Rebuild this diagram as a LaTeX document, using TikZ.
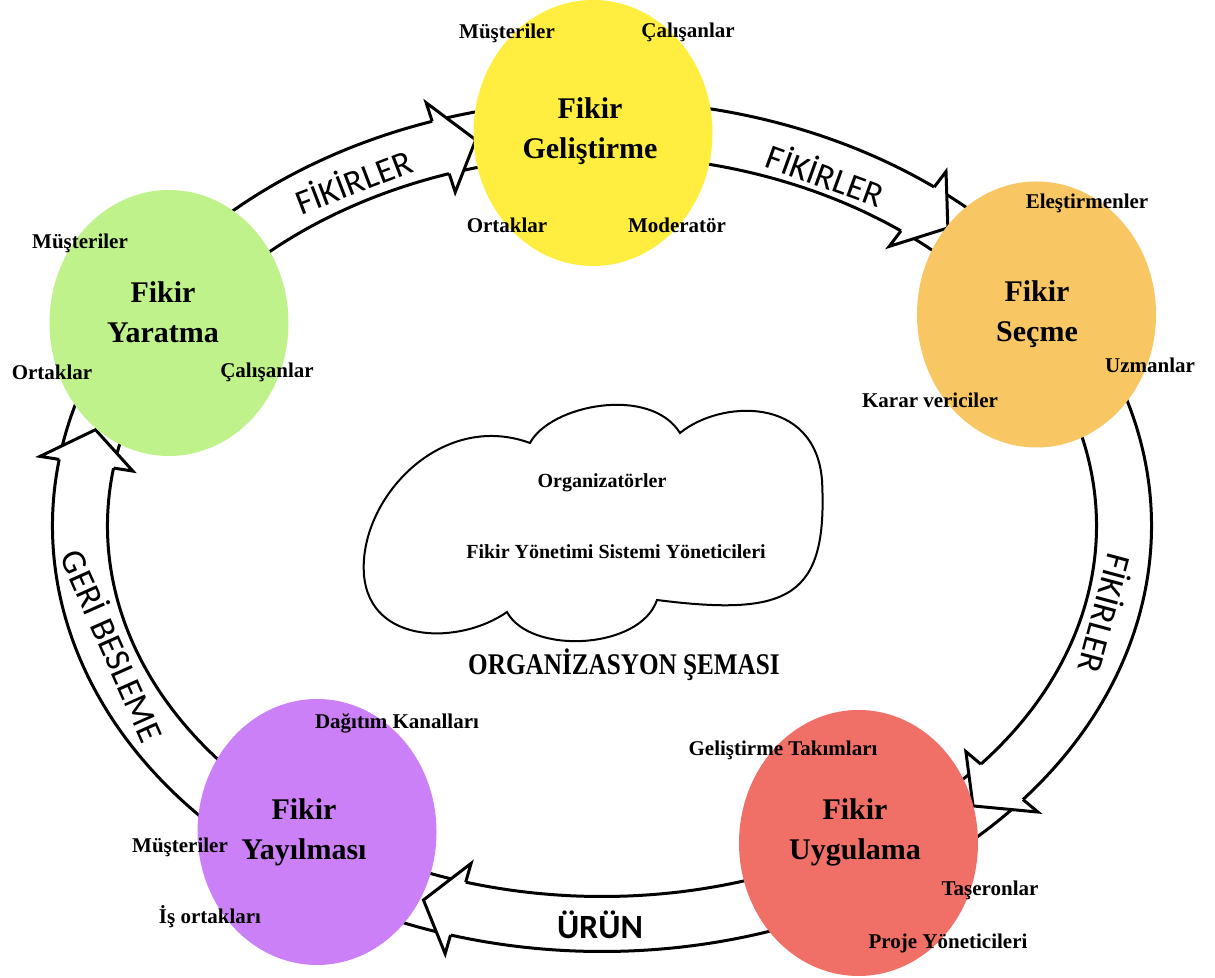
\documentclass[tikz,border=0pt]{standalone}
\usepackage{fontspec}
\setmainfont{Liberation Serif}
\newfontfamily\calib{Carlito}
\usetikzlibrary{shapes.geometric}
\definecolor{cyellow}{RGB}{255,238,64}
\definecolor{cgreen}{RGB}{192,242,139}
\definecolor{corange}{RGB}{248,198,99}
\definecolor{cred}{RGB}{240,112,103}
\definecolor{cpurple}{RGB}{204,128,248}
% ring: centre (602,451), rx 522, ry 398, half width 27.5, wing half span 47
\newcommand{\ringband}[2]{%
  \fill[white] ({602+549.5*cos(#1)},{451+425.5*sin(#1)}) arc[start angle=#1, end angle=#2, x radius=549.5, y radius=425.5]
    -- ({602+494.5*cos(#2)},{451+370.5*sin(#2)}) arc[start angle=#2, end angle=#1, x radius=494.5, y radius=370.5] -- cycle;
  \draw[ringline] ({602+549.5*cos(#1)},{451+425.5*sin(#1)}) arc[start angle=#1, end angle=#2, x radius=549.5, y radius=425.5];
  \draw[ringline] ({602+494.5*cos(#1)},{451+370.5*sin(#1)}) arc[start angle=#1, end angle=#2, x radius=494.5, y radius=370.5];
}
\newcommand{\ringhead}[2]{%
  \filldraw[ringline, fill=white]
   ({602+549.5*cos(#1)},{451+425.5*sin(#1)}) -- ({602+569*cos(#1)},{451+445*sin(#1)})
   -- ({602+522*cos(#2)},{451+398*sin(#2)})
   -- ({602+475*cos(#1)},{451+351*sin(#1)}) -- ({602+494.5*cos(#1)},{451+370.5*sin(#1)});
}
\begin{document}
\begin{tikzpicture}[x=1pt,y=1pt,
  ringline/.style={line width=3pt, line join=miter},
  bubble/.style={ellipse, draw=none, minimum width=239pt, minimum height=266pt, inner sep=0pt},
  title/.style={font=\bfseries\fontsize{30}{40}\selectfont, align=center, inner sep=0pt},
  role/.style={font=\bfseries\fontsize{21}{25}\selectfont, inner sep=0pt},
  flow/.style={font=\calib\fontsize{35}{40}\selectfont, inner sep=0pt},
  cloudline/.style={line width=2pt}
]
\useasboundingbox (0,0) rectangle (1215,977);
\fill[white] (0,0) rectangle (1215,977);

% ring arrows (bands)
\ringband{150}{98}
\ringband{85}{40}
\ringband{25}{-50}
\ringband{-65}{-115}
\ringband{235}{158}
% arrow heads
\ringhead{108}{104}
\ringhead{52.8}{48.5}
\ringhead{-40}{-44.7}
\ringhead{-106}{-110}
\ringhead{171}{166}

% circles
\node[bubble, fill=cyellow] (gel) at (593,844) {};
\node[bubble, fill=cgreen] (yar) at (169,654) {};
\node[bubble, fill=corange] (sec) at (1036.5,662.5) {};
\node[bubble, fill=cred] (uyg) at (858.5,134) {};
\node[bubble, fill=cpurple] (yay) at (317,145) {};

% arrow labels
\node[flow, rotate=21] (l1) at (353,797) {FİKİRLER};
\node[flow, rotate=-20] (l2) at (826,803) {FİKİRLER};
\node[flow, rotate=-105] (l3) at (1107,363) {FİKİRLER};
\node[flow, font=\calib\bfseries\fontsize{34}{40}\selectfont] (l4) at (600,52) {ÜRÜN};
\node[flow, rotate=-66] (l5) at (114,332) {GERİ BESLEME};

% Fikir Geliştirme
\node[title] (tgel) at (590,846) {Fikir\\Geliştirme};
\node[role] (g1) at (507,944) {Müşteriler};
\node[role] (g2) at (688,945) {Çalışanlar};
\node[role] (g3) at (507,752) {Ortaklar};
\node[role] (g4) at (677,752) {Moderatör};

% Fikir Yaratma
\node[title] (tyar) at (163,665) {Fikir\\Yaratma};
\node[role] (y1) at (80,734) {Müşteriler};
\node[role] (y2) at (52,605) {Ortaklar};
\node[role] (y3) at (267,605) {Çalışanlar};

% Fikir Seçme
\node[title] (tsec) at (1037,663) {Fikir\\Seçme};
\node[role] (s1) at (1087,774) {Eleştirmenler};
\node[role] (s2) at (1150,612) {Uzmanlar};
\node[role] (s3) at (930,577) {Karar vericiler};

% Fikir Uygulama
\node[title] (tuyg) at (855,145) {Fikir\\Uygulama};
\node[role] (u1) at (783,227) {Geliştirme Takımları};
\node[role] (u2) at (990,87) {Taşeronlar};
\node[role] (u3) at (948,34) {Proje Yöneticileri};

% Fikir Yayılması
\node[title] (tyay) at (304,145) {Fikir\\Yayılması};
\node[role] (p1) at (397,254) {Dağıtım Kanalları};
\node[role] (p2) at (180,130) {Müşteriler};
\node[role] (p3) at (210,60) {İş ortakları};

% cloud
\draw[cloudline] (507,365) .. controls (460,332) and (370,332) .. (364,402)
  .. controls (358,477) and (440,567) .. (530,534)
  .. controls (550,572) and (650,592) .. (680,544)
  .. controls (720,577) and (815,582) .. (822,497)
  .. controls (828,380) and (790,360) .. (657,377)
  .. controls (640,327) and (530,322) .. (507,365) -- cycle;
\node[role, font=\bfseries\fontsize{20}{24}\selectfont] (c1) at (602,494) {Organizatörler};
\node[role, font=\bfseries\fontsize{20}{24}\selectfont] (c2) at (616,425) {Fikir Yönetimi Sistemi Yöneticileri};
\node[inner sep=0pt, font=\bfseries\fontsize{30}{34}\selectfont] (org) at (624,312) {\scalebox{0.84}[1]{ORGANİZASYON ŞEMASI}};
\end{tikzpicture}
\end{document}
